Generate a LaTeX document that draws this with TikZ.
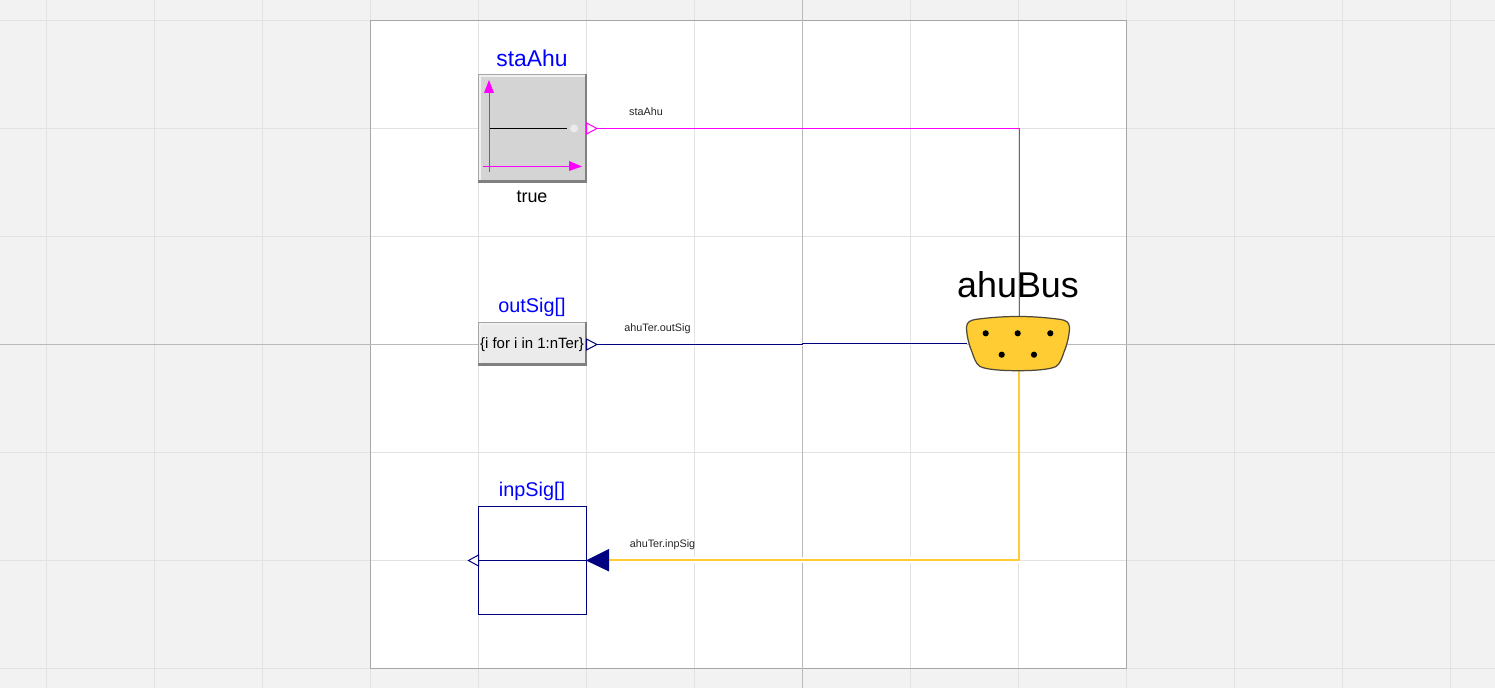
\documentclass[tikz,border=0pt]{standalone}
\usepackage{fontspec}
\setmainfont{Liberation Sans}
\definecolor{sheet}{HTML}{F2F2F2}
\definecolor{gridln}{HTML}{E2E2E2}
\definecolor{axisln}{HTML}{B9B9B9}
\definecolor{frameln}{HTML}{A6A6A6}
\definecolor{boolwire}{RGB}{255, 0, 255}
\definecolor{intwire}{RGB}{0, 0, 128}
\definecolor{buswire}{RGB}{255, 204, 51}
\definecolor{busline}{HTML}{4F4A38}
\definecolor{titleblue}{RGB}{0, 0, 255}
\definecolor{reliefln}{HTML}{808080}
\tikzset{
  % --- GRID ---
  gridline/.style={
    gridln,
    line width=0.57pt
  },
  axisline/.style={
    axisln,
    line width=0.57pt
  },
  % --- BLOCKS ---
  block/.style={
    draw=frameln,
    line width=0.57pt,
    inner sep=0pt,
    minimum width=2.16cm
  },
  block-relief/.style={
    draw=reliefln,
    line width=1.7pt
  },
  inp-block/.style={
    draw=intwire,
    fill=white,
    line width=0.57pt,
    inner sep=0pt,
    minimum size=2.16cm
  },
  bus-block/.style={
    inner sep=0pt,
    minimum width=2.04cm,
    minimum height=1.1cm
  },
  bus-outline/.style={
    fill=buswire,
    draw=busline,
    line width=0.7pt
  },
  % --- TEXT ---
  block-name/.style={
    text=titleblue,
    inner sep=0pt
  },
  block-text/.style={
    text=black,
    inner sep=0pt
  },
  wire-label/.style={
    text=black!85,
    font=\fontsize{6.15}{7}\selectfont,
    inner sep=0pt
  },
  % --- WIRES ---
  wire-bool/.style={
    draw=boolwire,
    line width=0.7pt
  },
  wire-int/.style={
    draw=intwire,
    line width=0.7pt
  },
  wire-bus/.style={
    draw=buswire,
    line width=1.3pt
  },
  port-open/.style={
    fill=white,
    line width=0.57pt
  },
}

\begin{document}
\begin{tikzpicture}[x=0.02cm, y=-0.02cm]
  \useasboundingbox (0,0) rectangle (1495,688);
  % --- canvas and grid
  \fill[sheet] (0,0) rectangle (1495,688);
  \fill[white] (370.5,20.5) rectangle (1126.5,668.5);
  \foreach \x in {46.5,154.5,...,1450.5}
    \draw[gridline] (\x,0) -- (\x,688);
  \foreach \y in {20.5,128.5,...,668.5}
    \draw[gridline] (0,\y) -- (1495,\y);
  \draw[frameln, line width=0.57pt] (370.5,20.5) rectangle (1126.5,668.5);
  \draw[axisline] (0,344.5) -- (1495,344.5);
  \draw[axisline] (802.5,0) -- (802.5,688);

  % --- blocks
  \node[block, minimum height=2.16cm, fill=white!94!black] (sta) at (532.5,128.5) {};
  \node[block, minimum height=0.86cm, fill=white!94!black] (out) at (532.5,344) {};
  \node[inp-block] (inp) at (532.5,560.5) {};
  \node[bus-block] (ahuBus) at (1018,343.5) {};

  % --- named points on the wires
  \coordinate (staPort) at (597,128.5);
  \coordinate (staBend) at (1019.5,128.5);
  \coordinate (outPort) at (597,344.5);
  \coordinate (outStepA) at (802.5,344.5);
  \coordinate (outStepB) at (802.5,343.5);
  \coordinate (inpPort) at (609,560);
  \coordinate (inpBend) at (1019.2,560);

  % --- wires
  \draw[white, line width=2.2pt] (outPort) -- (outStepA) -- (outStepB) -- (ahuBus.west);
  \draw[white, line width=3.8pt] (inpPort) -- (inpBend);
  \draw[wire-bool] (staPort) -- (staBend) -- (staBend |- ahuBus.north);
  \draw[wire-int]  (outPort) -- (outStepA) -- (outStepB) -- (ahuBus.west);
  \draw[wire-bus]  (inpPort) -- (inpBend) -- (inpBend |- ahuBus.south);

  % --- staAhu icon
  \fill[black!17] ([shift={(3,3)}]sta.north west) rectangle (sta.south east);
  \draw[block-relief] ([shift={(0,-1)}]sta.south west) -- ([shift={(-1,-1)}]sta.south east) -- ([shift={(-1,0)}]sta.north east);
  \draw[boolwire, line width=0.57pt] (489.5,92) -- (489.5,172);
  \draw[boolwire, line width=0.57pt] (483,166.5) -- (570,166.5);
  \fill[boolwire] (489,80) -- (494,93) -- (484,93) -- cycle;
  \fill[boolwire] (582,166.5) -- (569,161) -- (569,171) -- cycle;
  \draw[black, line width=0.57pt] (489.5,128.5) -- (567,128.5);
  \fill[black!8] (574,128.5) circle (4);

  % --- outSig relief
  \fill[black!8] ([shift={(3,3)}]out.north west) rectangle (out.south east);
  \draw[block-relief] ([shift={(0,-1)}]out.south west) -- ([shift={(-1,-1)}]out.south east) -- ([shift={(-1,0)}]out.north east);

  % --- inpSig inner line
  \draw[wire-int, line width=0.57pt] (inp.west) -- (inp.east);

  % --- ports
  \draw[port-open, draw=boolwire] (586.5,123) -- (597,128.5) -- (586.5,134) -- cycle;
  \draw[port-open, draw=intwire] (586.5,339) -- (597,344.5) -- (586.5,350) -- cycle;
  \draw[port-open, draw=intwire] (478.5,555) -- (468.5,560.5) -- (478.5,566) -- cycle;
  \fill[intwire] (586,560.5) -- (609,549) -- (609,571.5) -- cycle;

  % --- bus connector
  \draw[bus-outline] (975,319.5) .. controls (990,317.5) and (1003,316.5) .. (1018,316.5)
    .. controls (1033,316.5) and (1046,317.5) .. (1061,319.5)
    .. controls (1066,320.5) and (1069,322) .. (1069.5,327)
    .. controls (1069.5,335) and (1067,345) .. (1064,352)
    .. controls (1062,358) and (1060,364) .. (1056,366.5)
    .. controls (1050,369.5) and (1035,370.7) .. (1018,370.7)
    .. controls (1001,370.7) and (986,369.5) .. (980,366.5)
    .. controls (976,364) and (974,358) .. (972,352)
    .. controls (969,345) and (966.5,335) .. (966.5,327)
    .. controls (967,322) and (970,320.5) .. (975,319.5) -- cycle;
  \foreach \x/\y in {985.7/333.3, 1017.7/333.3, 1050.3/333.3, 1001.7/354.7, 1034/354.7}
    \fill[black] (\x,\y) circle (3.1);

  % --- text
  \node[block-name, font=\fontsize{13}{15}\selectfont] (staName) at (532,58) {staAhu};
  \node[block-text, font=\fontsize{10.2}{12}\selectfont] (staVal) at (532,197) {true};
  \node[block-name, font=\fontsize{11.3}{13}\selectfont] (outName) at (532,307.5) {outSig[]};
  \node[block-text, font=\fontsize{8.5}{10}\selectfont] (outVal) at (532,345) {\{i for i in 1:nTer\}};
  \node[block-name, font=\fontsize{11.3}{13}\selectfont] (inpName) at (532,491.5) {inpSig[]};
  \node[block-text, font=\fontsize{20.4}{24}\selectfont] (busName) at (1018,285) {ahuBus};
  \node[wire-label] (staLab) at (646,112) {staAhu};
  \node[wire-label] (outLab) at (657.5,328.5) {ahuTer.outSig};
  \node[wire-label] (inpLab) at (662.5,544.5) {ahuTer.inpSig};
\end{tikzpicture}
\end{document}
